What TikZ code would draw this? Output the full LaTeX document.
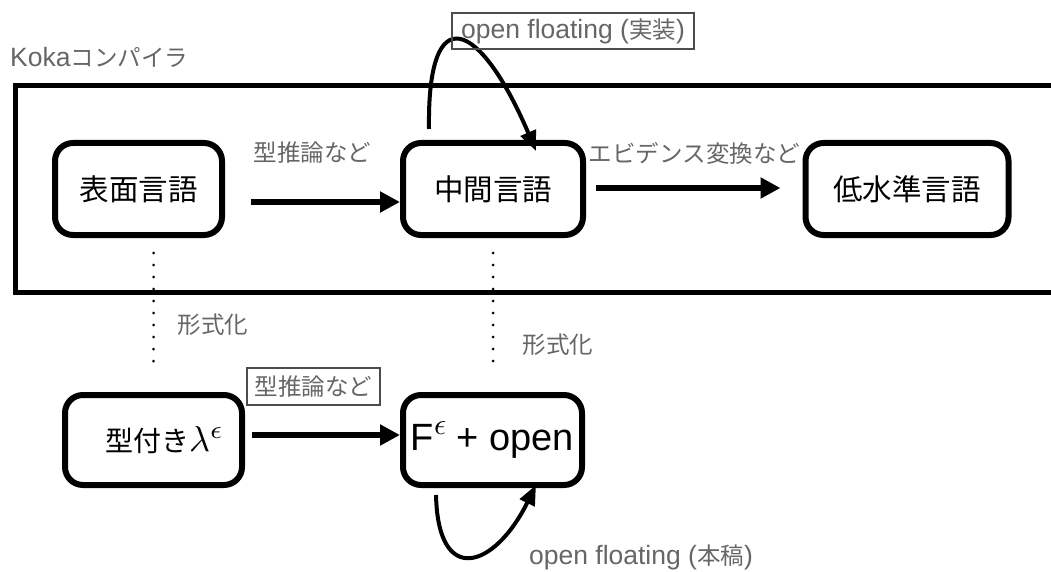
\documentclass[tikz,border=0pt]{standalone}
\usepackage{graphicx}
\usepackage{fontspec}
\setmainfont{Noto Sans CJK JP}
\newfontfamily\lat{Liberation Sans}
\usetikzlibrary{arrows.meta,calc}
\newcommand{\lt}[1]{{\lat\fontsize{26.5}{28}\selectfont #1}}
\newcommand{\bigmath}[2]{{\fontsize{10}{12}\selectfont\scalebox{#1}{$#2$}}}
\begin{document}
\begin{tikzpicture}[x=1pt,y=-1pt,
  box/.style={draw,line width=6pt,rounded corners=18pt,inner sep=0pt,font=\fontsize{29.5}{32}\selectfont},
  lbl/.style={text=black!60,font=\fontsize{23.5}{26}\selectfont,inner sep=2pt},
  lblbox/.style={lbl,draw=black!70,line width=1.2pt,inner sep=3pt},
  arr/.style={line width=5.5pt,-{Triangle[length=20pt,width=20pt]}},
  loopar/.style={line width=4pt,-{Triangle[length=20pt,width=16pt]}},
  dots/.style={line width=3pt,dash pattern=on 0pt off 12pt,line cap=round},
  frame/.style={line width=5pt}]
\useasboundingbox (0,0) rectangle (1051,572);
% compiler frame
\draw[frame] (1060,86) -- (15,86) -- (15,292) -- (1060,292);
\node[lbl,anchor=west] (koka) at (8,57) {\lt{Koka}コンパイラ};
% nodes
\node[box,minimum width=167pt,minimum height=92pt] (A) at (138.5,189) {表面言語};
\node[box,minimum width=180pt,minimum height=92pt] (B) at (493,189) {中間言語};
\node[box,minimum width=203pt,minimum height=92pt] (C) at (907,189) {低水準言語};
\node[box,minimum width=177pt,minimum height=90pt,font=\fontsize{28}{30}\selectfont] (D) at (153.5,440) {\hspace*{22pt}型付き\bigmath{3.6}{\lambda^{\epsilon}}};
\node[box,minimum width=179pt,minimum height=90pt,font=\lat\fontsize{38}{40}\selectfont] (E) at (492.5,440) {F\raisebox{16pt}{\bigmath{3}{\epsilon}} + open};
% arrows
\draw[arr] ($(A.east)+(26,13)$) -- ($(B.west)+(0,13)$);
\draw[arr] ($(B.east)+(10,-1)$) -- ($(C.west)+(-22,-1)$);
\draw[arr] ($(D.east)+(7,-5)$) -- ($(E.west)+(0,-5)$);
% loops
\coordinate (ts) at ($(B.north)+(-64,-11)$);
\coordinate (te) at ($(B.north)+(43,11)$);
\draw[loopar] (ts) .. controls (427,-4) and (480,20) .. (te);
\coordinate (bs) at ($(E.south)+(-56.5,7)$);
\coordinate (be) at ($(E.south)+(43.5,-3)$);
\draw[loopar] (bs) .. controls (438,588) and (495,568) .. (be);
% dotted
\draw[dots] ($(A.south -| D.north)+(0,15)$) -- ($(D.north)+(0,-22)$);
\draw[dots] ($(B.south)+(0,15)$) -- ($(B.south |- E.north)+(0,-22)$);
% labels
\node[lblbox,minimum width=242pt,minimum height=36pt] (l1) at (573,31) {\lt{open floating (}実装\lt{)}};
\node[lbl] (l2) at (312.5,153) {型推論など};
\node[lbl] (l3) at (694.5,153) {エビデンス変換など};
\node[lblbox,minimum width=133pt,minimum height=37pt] (l4) at (313.5,386.5) {型推論など};
\node[lbl] (l5) at (213,325) {形式化};
\node[lbl] (l6) at (558,345) {形式化};
\node[lbl] (l7) at (641,557) {\lt{open floating (}本稿\lt{)}};
\end{tikzpicture}
\end{document}
